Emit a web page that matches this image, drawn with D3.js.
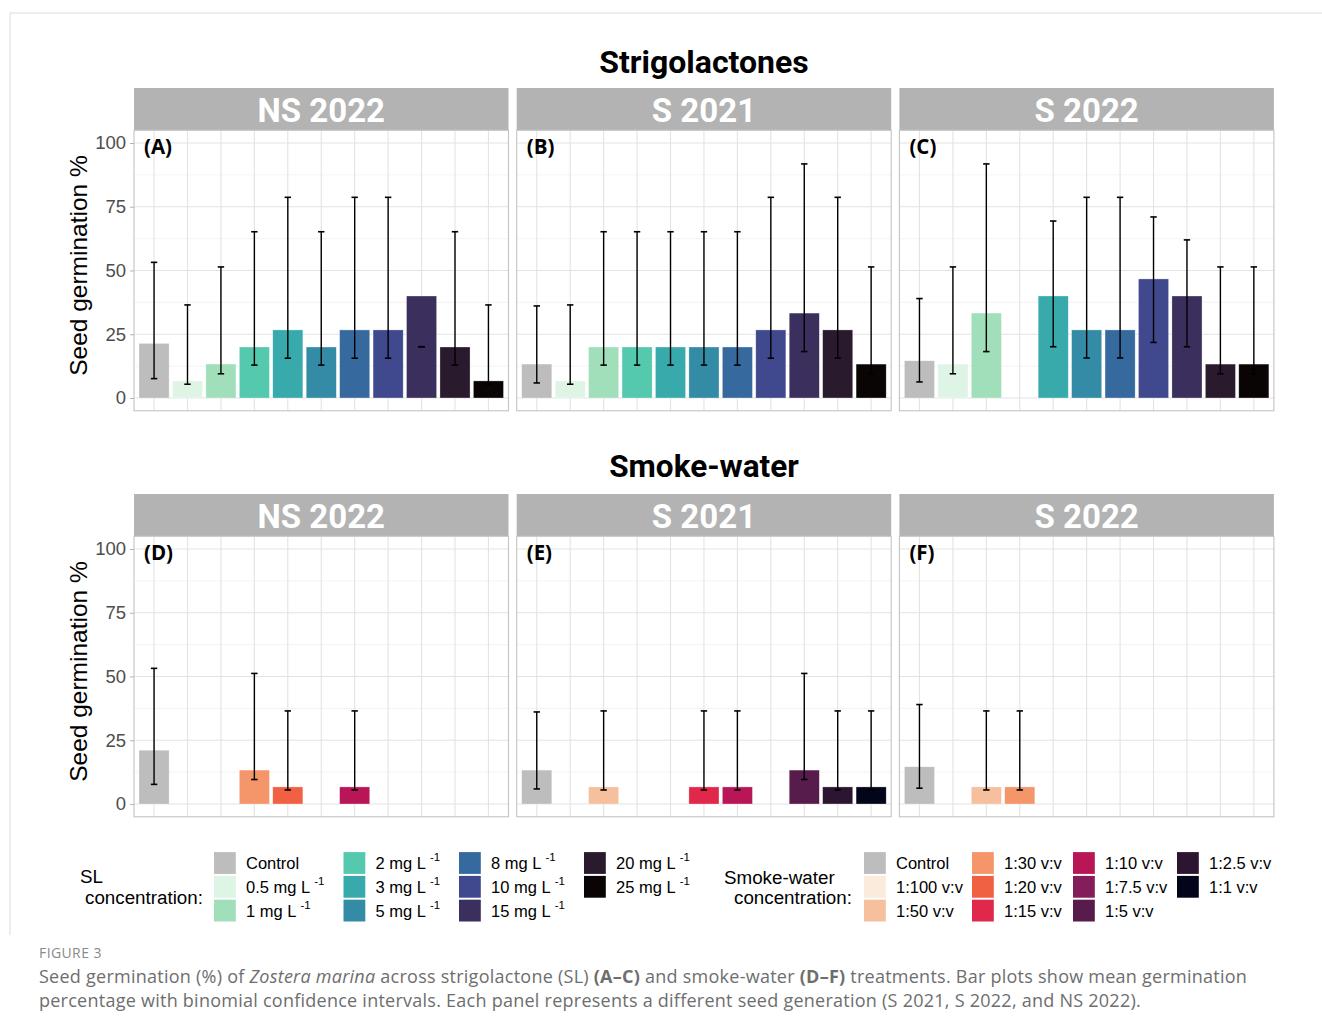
<!DOCTYPE html>
<html><head><meta charset="utf-8">
<script src="https://cdn.jsdelivr.net/npm/d3@7"></script>
<style>body{margin:0;background:#fff}svg{display:block}</style>
</head><body>
<svg id="c" width="1322" height="1031"></svg>
<script>
// ---------- DATA ----------
const slLabels = ["Control","0.5 mg L","1 mg L","2 mg L","3 mg L","5 mg L","8 mg L","10 mg L","15 mg L","20 mg L","25 mg L"];
const slColors = ["#bdbdbd","#def5e5","#a0dfb9","#54c9ad","#38aaac","#348ba6","#366a9f","#40498e","#3b2f5e","#2a1a2e","#0b0405"];
const swLabels = ["Control","1:100 v:v","1:50 v:v","1:30 v:v","1:20 v:v","1:15 v:v","1:10 v:v","1:7.5 v:v","1:5 v:v","1:2.5 v:v","1:1 v:v"];
const swColors = ["#bdbdbd","#faebdd","#f6bf9e","#f4956a","#f06043","#e0294a","#b91657","#841e5a","#571b4c","#2c1530","#03051a"];
const panelNames = ["NS 2022","S 2021","S 2022"];
const yTicks = [0,25,50,75,100];

// Strigolactones
const slMeanNS2022 = [21.4, 6.7, 13.3, 20, 26.7, 20, 26.7, 26.7, 40, 20, 6.7];
const slLowNS2022  = [7.6, 5.4, 9.5, 12.9, 15.6, 12.9, 15.6, 15.6, 20.1, 12.9, 5.4];
const slHighNS2022 = [53.2, 36.5, 51.4, 65.2, 78.7, 65.2, 78.7, 78.7, 20.1, 65.2, 36.5];
const slMeanS2021 = [13.3, 6.7, 20, 20, 20, 20, 20, 26.7, 33.3, 26.7, 13.3];
const slLowS2021  = [5.9, 5.4, 12.9, 12.9, 12.9, 12.9, 12.9, 15.6, 18.2, 15.6, 9.5];
const slHighS2021 = [36.1, 36.5, 65.2, 65.2, 65.2, 65.2, 65.2, 78.7, 91.8, 78.7, 51.4];
const slMeanS2022 = [14.6, 13.3, 33.3, null, 40, 26.7, 26.7, 46.7, 40, 13.3, 13.3];
const slLowS2022  = [6.3, 9.5, 18.2, null, 20.1, 15.7, 15.7, 21.8, 20.1, 9.5, 9.5];
const slHighS2022 = [39.0, 51.4, 91.8, null, 69.4, 78.7, 78.7, 71.0, 62.0, 51.4, 51.4];

// Smoke-water
const swMeanNS2022 = [21.1, null, null, 13.3, 6.7, null, 6.7, null, null, null, null];
const swLowNS2022  = [7.7, null, null, 9.6, 5.5, null, 5.5, null, null, null, null];
const swHighNS2022 = [53.2, null, null, 51.2, 36.5, null, 36.5, null, null, null, null];
const swMeanS2021 = [13.3, null, 6.7, null, null, 6.7, 6.7, null, 13.3, 6.7, 6.7];
const swLowS2021  = [5.9, null, 5.5, null, null, 5.5, 5.5, null, 9.6, 5.5, 5.5];
const swHighS2021 = [36.1, null, 36.5, null, null, 36.5, 36.5, null, 51.2, 36.5, 36.5];
const swMeanS2022 = [14.6, null, 6.7, 6.7, null, null, null, null, null, null, null];
const swLowS2022  = [6.2, null, 5.5, 5.5, null, null, null, null, null, null, null];
const swHighS2022 = [39.0, null, 36.5, 36.5, null, null, null, null, null, null, null];

// ---------- DRAW ----------
const svg = d3.select("#c");
const SANS = "'Liberation Sans', Arial, sans-serif";

// outer frame
svg.append("path").attr("d","M10,935 L10,13 L1322,13").attr("fill","none").attr("stroke","#dcdcdc").attr("stroke-width",1);

const rows = [
  {title:"Strigolactones", titleSize:32, titleY:62, stripTop:88, top:130.25, bottom:410.75, labels:slLabels, colors:slColors,
   letters:["(A)","(B)","(C)"],
   data:[[slMeanNS2022,slLowNS2022,slHighNS2022],[slMeanS2021,slLowS2021,slHighS2021],[slMeanS2022,slLowS2022,slHighS2022]]},
  {title:"Smoke-water", titleSize:31.5, titleY:466, stripTop:494, top:536.25, bottom:816.75, labels:swLabels, colors:swColors,
   letters:["(D)","(E)","(F)"],
   data:[[swMeanNS2022,swLowNS2022,swHighNS2022],[swMeanS2021,swLowS2021,swHighS2021],[swMeanS2022,swLowS2022,swHighS2022]]}
];
const panelLeft = [134, 516.7, 899.4];
const panelW = 374.5;

rows.forEach(row => {
  svg.append("text").attr("x",704).attr("y",row.titleY).attr("text-anchor","middle").attr("dominant-baseline","central")
    .attr("font-family","Roboto, sans-serif").attr("font-weight","bold").attr("font-size",row.titleSize).attr("fill","#000").text(row.title);

  const y = d3.scaleLinear().domain([-5,105]).range([row.bottom,row.top]);
  const minor = [12.5,37.5,62.5,87.5];

  row.data.forEach((d,pi) => {
    const x0 = panelLeft[pi], x1 = x0 + panelW;
    const x = d3.scaleBand().domain(d3.range(11)).range([x0,x1]).paddingInner(0.1).paddingOuter(0.15);
    const g = svg.append("g");
    // strip
    g.append("rect").attr("x",x0).attr("y",row.stripTop).attr("width",panelW).attr("height",row.top-row.stripTop).attr("fill","#b3b3b3");
    g.append("text").attr("x",(x0+x1)/2).attr("y",(row.stripTop+row.top)/2+1).attr("text-anchor","middle").attr("dominant-baseline","central")
      .attr("font-family","Roboto, sans-serif").attr("font-weight","bold").attr("font-size",33).attr("fill","#fff").text(panelNames[pi]);
    // grid
    g.selectAll(".mn").data(minor).join("line").attr("x1",x0).attr("x2",x1).attr("y1",v=>y(v)).attr("y2",v=>y(v))
      .attr("stroke","#f0f0f0").attr("stroke-width",0.8);
    g.selectAll(".mj").data(yTicks).join("line").attr("x1",x0).attr("x2",x1).attr("y1",v=>y(v)).attr("y2",v=>y(v))
      .attr("stroke","#e3e3e3").attr("stroke-width",1.1);
    g.selectAll(".vx").data(d3.range(11)).join("line").attr("x1",i=>x(i)+x.bandwidth()/2).attr("x2",i=>x(i)+x.bandwidth()/2)
      .attr("y1",row.top).attr("y2",row.bottom).attr("stroke","#e3e3e3").attr("stroke-width",1.1);
    // bars
    const idx = d3.range(11).filter(i => d[0][i] !== null);
    g.selectAll(".bar").data(idx).join("rect").attr("x",i=>x(i)).attr("width",x.bandwidth())
      .attr("y",i=>y(d[0][i])).attr("height",i=>y(0)-y(d[0][i])).attr("fill",i=>row.colors[i])
      .attr("stroke","#ffffff").attr("stroke-opacity",0.5).attr("stroke-width",0.6);
    // error bars
    const cap = 3.2;
    idx.forEach(i => {
      const cx = x(i)+x.bandwidth()/2;
      const lo = y(d[1][i]), hi = y(d[2][i]);
      g.append("line").attr("x1",cx).attr("x2",cx).attr("y1",lo).attr("y2",hi).attr("stroke","#000").attr("stroke-width",1.4);
      g.append("line").attr("x1",cx-cap).attr("x2",cx+cap).attr("y1",lo).attr("y2",lo).attr("stroke","#000").attr("stroke-width",1.6);
      g.append("line").attr("x1",cx-cap).attr("x2",cx+cap).attr("y1",hi).attr("y2",hi).attr("stroke","#000").attr("stroke-width",1.6);
    });
    // border
    g.append("rect").attr("x",x0).attr("y",row.top).attr("width",panelW).attr("height",row.bottom-row.top)
      .attr("fill","none").attr("stroke","#c4c4c4").attr("stroke-width",1.1);
    // letter
    g.append("text").attr("x",x0+10).attr("y",row.top+24).attr("font-family","'Open Sans', sans-serif").attr("font-weight","bold")
      .attr("font-size",20.5).attr("fill","#000").text(row.letters[pi]);
    // y axis on first panel
    if (pi === 0) {
      const ax = g.append("g").attr("transform",`translate(${x0},0)`).call(d3.axisLeft(y).tickValues(yTicks).tickSize(4).tickPadding(4));
      ax.select(".domain").remove();
      ax.selectAll(".tick line").attr("stroke","#b3b3b3").attr("stroke-width",1);
      ax.selectAll(".tick text").attr("font-family",SANS).attr("font-size",18.5).attr("fill","#4d4d4d");
      g.append("text").attr("transform",`translate(78,${(y(0)+y(100))/2 - 5}) rotate(-90)`).attr("text-anchor","middle")
        .attr("dominant-baseline","central").attr("font-family",SANS).attr("font-size",24.5).attr("fill","#000").text("Seed germination %");
    }
  });
});

// ---------- LEGENDS ----------
function legend(labels, colors, keyX, titleLines, superscript) {
  const g = svg.append("g");
  titleLines.forEach(t => {
    g.append("text").attr("x",t.x).attr("y",t.y).attr("dominant-baseline","central").attr("font-family",SANS)
      .attr("font-size",18.8).attr("fill","#000").text(t.s);
  });
  const rowY = [863, 886.8, 910.6];
  labels.forEach((lab,i) => {
    const col = Math.floor(i/3), r = i%3;
    const kx = keyX[col], cy = rowY[r];
    g.append("rect").attr("x",kx).attr("y",cy-10.9).attr("width",21.8).attr("height",21.8).attr("fill",colors[i]);
    const t = g.append("text").attr("x",kx+32).attr("y",cy).attr("dominant-baseline","central")
      .attr("font-family",SANS).attr("font-size",16.5).attr("fill","#000");
    t.append("tspan").text(lab);
    if (superscript && i>0) t.append("tspan").attr("dx",4).attr("dy",-6).attr("font-size",11.5).text("-1");
  });
}
legend(slLabels, slColors, [214,343.5,459,584],
  [{x:80,y:876,s:"SL"},{x:85,y:897,s:"concentration:"}], true);
legend(swLabels, swColors, [864,972,1073,1177],
  [{x:724,y:877,s:"Smoke-water"},{x:734,y:897,s:"concentration:"}], false);

// ---------- CAPTION ----------
const CAP = "'Open Sans', sans-serif";
svg.append("text").attr("x",39).attr("y",958).attr("font-family",CAP).attr("font-size",14).attr("fill","#8a8a8a")
  .attr("letter-spacing",0.4).text("FIGURE 3");
const l1 = svg.append("text").attr("x",39).attr("y",983).attr("font-family",CAP).attr("font-size",18)
  .attr("letter-spacing",0.25).attr("fill","#6e6e6e");
l1.append("tspan").text("Seed germination (%) of ");
l1.append("tspan").attr("font-style","italic").text("Zostera marina");
l1.append("tspan").text(" across strigolactone (SL) ");
l1.append("tspan").attr("font-weight","bold").text("(A–C)");
l1.append("tspan").text(" and smoke-water ");
l1.append("tspan").attr("font-weight","bold").text("(D–F)");
l1.append("tspan").text(" treatments. Bar plots show mean germination");
svg.append("text").attr("x",39).attr("y",1007).attr("font-family",CAP).attr("font-size",18).attr("letter-spacing",0.25).attr("fill","#6e6e6e")
  .text("percentage with binomial confidence intervals. Each panel represents a different seed generation (S 2021, S 2022, and NS 2022).");
</script>
</body></html>
